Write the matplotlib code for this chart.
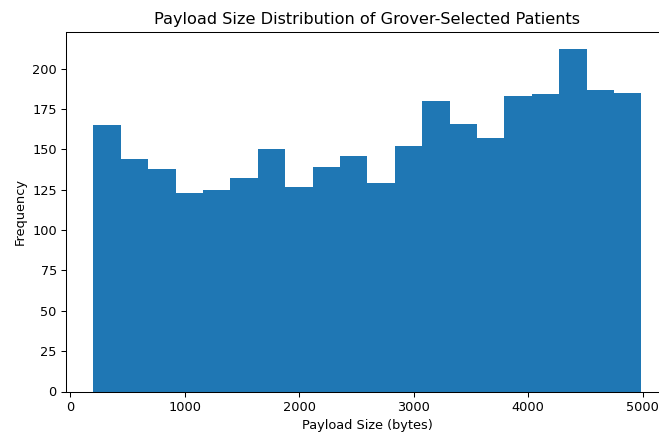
import numpy as np
import matplotlib
matplotlib.use("Agg")
import matplotlib.pyplot as plt

# Histogram counts per payload-size bin (20 equal bins)
bin_start = 200
bin_end = 4990
counts = [165, 144, 138, 123, 125, 132, 150, 127, 139, 146,
          129, 152, 180, 166, 157, 183, 184, 212, 187, 185]

edges = np.linspace(bin_start, bin_end, len(counts) + 1)

dpi = 93
fig, ax = plt.subplots(figsize=(659 / dpi, 435 / dpi), dpi=dpi)
# axes run slightly past the right edge of the canvas
fig.subplots_adjust(left=0.100, right=1.015, top=0.926, bottom=0.100)

ax.hist(edges[:-1], bins=edges, weights=counts, color='#1f77b4')

ax.set_title('Payload Size Distribution of Grover-Selected Patients', fontsize=12.5)
ax.set_xlabel('Payload Size (bytes)')
ax.set_ylabel('Frequency')

plt.savefig('out.png', dpi=dpi)
